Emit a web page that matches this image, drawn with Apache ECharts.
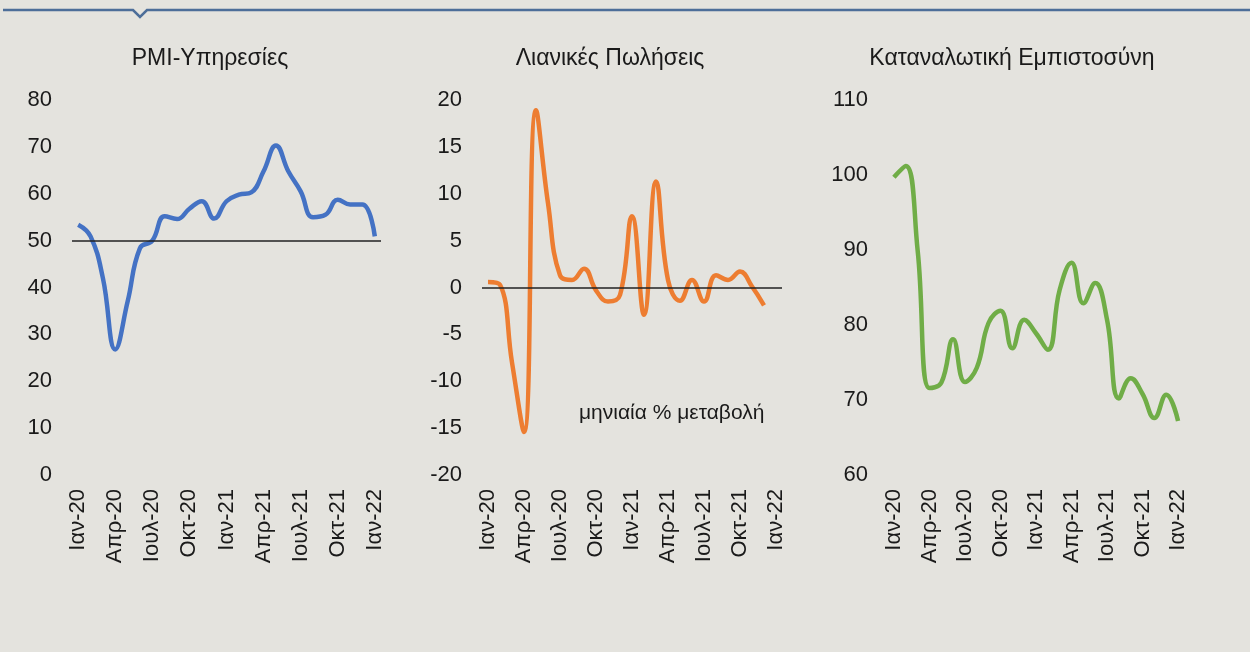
<!DOCTYPE html>
<html>
<head>
<meta charset="utf-8">
<script src="https://cdn.jsdelivr.net/npm/echarts@6/dist/echarts.min.js"></script>
<style>
  html, body { margin: 0; padding: 0; background: #e4e3de; }
  #main { width: 1250px; height: 652px; }
</style>
</head>
<body>
<div id="main"></div>
<script>
// μήνες για τον άξονα x
var months = ['Ιαν', 'Φεβ', 'Μαρ', 'Απρ', 'Μαϊ', 'Ιουν', 'Ιουλ', 'Αυγ', 'Σεπ', 'Οκτ', 'Νοε', 'Δεκ'];
var years = ['20', '21', '22'];

var categories = [];
for (var y = 0; y < years.length; y++) {
    for (var m = 0; m < 12; m++) {
        if (categories.length < 25) categories.push(months[m] + '-' + years[y]);
    }
}

// PMI υπηρεσιών
var pmi_values = [53.4, 50.9, 42, 26.8, 37, 48.4, 50, 55.2, 54.6, 56.8, 58.4, 54.7, 58.4,
    59.8, 60.3, 64.8, 70.3, 64.8, 60.5, 55.0, 55.5, 58.7, 57.7, 57.7, 50.9];
// λιανικές πωλήσεις, μηνιαία % μεταβολή
var retail_values = [0.6, 0.3, -8, -15.4, 18.9, 9.0, 1.3, 0.8, 2.0, -0.3, -1.5, -0.8, 7.6,
    -2.9, 11.3, 0.8, -1.4, 0.8, -1.5, 1.3, 0.8, 1.7, 0.1, -1.9, null];
// καταναλωτική εμπιστοσύνη
var conf_values = [99.7, 101.2, 90, 71.6, 72.3, 78.1, 72.4, 74.3, 80.3, 81.9, 76.9, 80.7, 78.9,
    76.7, 84.7, 88.3, 82.9, 85.6, 80.7, 70.2, 72.9, 70.8, 67.6, 70.7, 67.2];

var pmi_ref = 50;
var retail_ref = 0;

var font = "'Liberation Sans', Arial, sans-serif";
var txt = '#1a1a1a';

var chart = echarts.init(document.getElementById('main'), null, {renderer: 'canvas'});

function xAxisCfg(idx) {
    return {
        type: 'category',
        gridIndex: idx,
        data: categories,
        boundaryGap: true,
        axisLine: {show: false},
        axisTick: {show: false},
        axisLabel: {
            interval: 2,
            rotate: 90,
            margin: 14,
            color: txt,
            fontSize: 22,
            fontFamily: font
        }
    };
}

function yAxisCfg(idx, min, max, step) {
    return {
        type: 'value',
        gridIndex: idx,
        min: min,
        max: max,
        interval: step,
        splitLine: {show: false},
        axisLine: {show: false},
        axisTick: {show: false},
        axisLabel: {
            margin: 20,
            color: txt,
            fontSize: 22,
            fontFamily: font
        }
    };
}

function refLine(v) {
    return {
        silent: true,
        symbol: 'none',
        label: {show: false},
        lineStyle: {color: '#222', width: 1.5, type: 'solid'},
        data: [{yAxis: v}]
    };
}

var titleStyle = {fontSize: 23, fontWeight: 'normal', color: txt, fontFamily: font};

var option = {
    backgroundColor: '#e4e3de',
    animation: false,
    title: [
        {text: 'PMI-Υπηρεσίες', left: 205, top: 42, textAlign: 'center', textStyle: titleStyle},
        {text: 'Λιανικές Πωλήσεις', left: 605, top: 42, textAlign: 'center', textStyle: titleStyle},
        {text: 'Καταναλωτική Εμπιστοσύνη', left: 1007, top: 42, textAlign: 'center', textStyle: titleStyle},
        {text: 'μηνιαία % μεταβολή', left: 574, top: 398,
            textStyle: {fontSize: 21, fontWeight: 'normal', color: txt, fontFamily: font}}
    ],
    graphic: [
        {
            type: 'polyline',
            silent: true,
            shape: {points: [[3, 10], [133, 10], [140, 17], [147, 10], [1250, 10]]},
            style: {stroke: '#4d6e99', lineWidth: 2.5, fill: null}
        }
    ],
    grid: [
        {left: 72, top: 100, width: 309, height: 375},
        {left: 482, top: 100, width: 300, height: 375},
        {left: 888, top: 100, width: 296, height: 375}
    ],
    xAxis: [xAxisCfg(0), xAxisCfg(1), xAxisCfg(2)],
    yAxis: [
        yAxisCfg(0, 0, 80, 10),
        yAxisCfg(1, -20, 20, 5),
        yAxisCfg(2, 60, 110, 10)
    ],
    series: [
        {
            name: 'PMI',
            type: 'line',
            xAxisIndex: 0,
            yAxisIndex: 0,
            data: pmi_values,
            smooth: 0.45,
            showSymbol: false,
            lineStyle: {color: '#4472c4', width: 4.5},
            markLine: refLine(pmi_ref),
            z: 3
        },
        {
            name: 'Λιανικές',
            type: 'line',
            xAxisIndex: 1,
            yAxisIndex: 1,
            data: retail_values,
            smooth: 0.45,
            showSymbol: false,
            lineStyle: {color: '#ed7d31', width: 4.5},
            markLine: refLine(retail_ref),
            z: 3
        },
        {
            name: 'Εμπιστοσύνη',
            type: 'line',
            xAxisIndex: 2,
            yAxisIndex: 2,
            data: conf_values,
            smooth: 0.45,
            showSymbol: false,
            lineStyle: {color: '#70ad47', width: 4.5},
            z: 3
        }
    ]
};

chart.setOption(option);
</script>
</body>
</html>
